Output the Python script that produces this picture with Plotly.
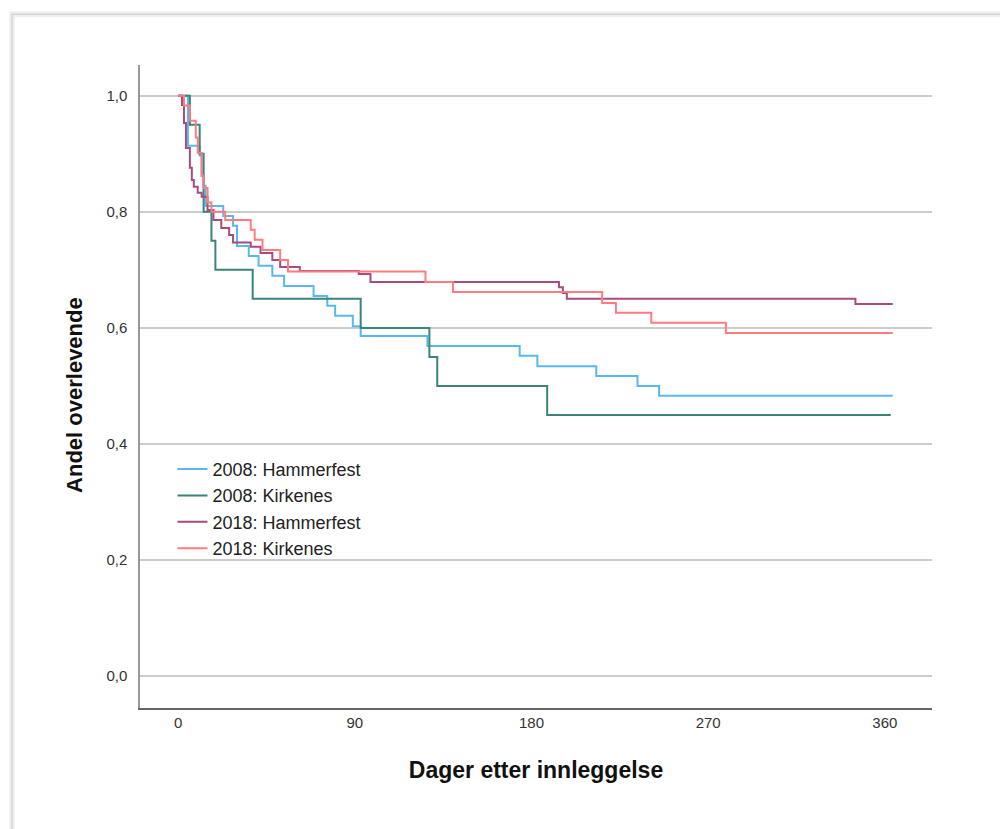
import plotly.graph_objects as go

# Kaplan-Meier style step data (days after admission, proportion surviving)
days_h08 = [0, 5, 11, 12, 13, 14, 23, 28, 30, 36, 41, 48, 54, 69, 76, 80, 89, 93, 127, 174, 183, 213, 234, 245, 364]
surv_h08 = [1.0, 0.914, 0.897, 0.862, 0.845, 0.810, 0.793, 0.776, 0.741, 0.724, 0.707, 0.690, 0.672, 0.655,
            0.638, 0.621, 0.603, 0.586, 0.569, 0.552, 0.534, 0.517, 0.500, 0.483, 0.483]

days_k08 = [0, 6, 11, 13, 17, 19, 38, 93, 128, 132, 188, 363]
surv_k08 = [1.0, 0.95, 0.90, 0.80, 0.75, 0.70, 0.65, 0.60, 0.55, 0.50, 0.45, 0.45]

days_h18 = [0, 2, 3, 4, 6, 7, 8, 10, 12, 15, 18, 22, 26, 28, 37, 42, 48, 52, 62, 92, 98, 194, 196, 198, 345, 364]
surv_h18 = [1.0, 0.984, 0.953, 0.910, 0.876, 0.855, 0.843, 0.833, 0.826, 0.803, 0.786, 0.772, 0.760, 0.747,
            0.740, 0.729, 0.717, 0.705, 0.698, 0.693, 0.679, 0.670, 0.660, 0.650, 0.641, 0.641]

days_k18 = [0, 3, 6, 9, 10, 12, 13, 15, 17, 24, 37, 39, 43, 52, 56, 126, 140, 216, 223, 241, 279, 364]
surv_k18 = [1.0, 0.983, 0.957, 0.928, 0.902, 0.862, 0.841, 0.816, 0.800, 0.786, 0.769, 0.752, 0.734, 0.717,
            0.697, 0.679, 0.662, 0.643, 0.626, 0.609, 0.591, 0.591]

series_names = ["2008: Hammerfest", "2008: Kirkenes", "2018: Hammerfest", "2018: Kirkenes"]
series_colors = ["#5ab8f0", "#3a847a", "#a94b7e", "#ff7b80"]

x_ticks = [0, 90, 180, 270, 360]
y_ticks = [0.0, 0.2, 0.4, 0.6, 0.8, 1.0]

fig = go.Figure()
for name, color, xs, ys in zip(series_names, series_colors,
                                [days_h08, days_k08, days_h18, days_k18],
                                [surv_h08, surv_k08, surv_h18, surv_k18]):
    fig.add_trace(go.Scatter(x=xs, y=ys, mode="lines", name=name,
                             line=dict(color=color, width=2, shape="hv")))

# outer frame with soft shadow
frame = dict(type="rect", xref="paper", yref="paper", x0=-0.1616, x1=1.12, y0=-0.25, y1=1.079, layer="below")
fig.add_shape(**frame, line=dict(color="rgba(0,0,0,0.06)", width=6))
fig.add_shape(**frame, line=dict(color="#d4d4d4", width=1.5))

# y-axis title placed as rotated annotation
fig.add_annotation(text="<b>Andel overlevende</b>", xref="paper", yref="paper",
                   x=-0.082, y=0.487, xanchor="center", yanchor="middle",
                   textangle=-90, showarrow=False, font=dict(size=22, color="#111"))

fig.update_layout(
    width=1008, height=829,
    margin=dict(l=132, r=84, t=57, b=129),
    paper_bgcolor="white", plot_bgcolor="white",
    separators=", ",
    font=dict(family="Liberation Sans, Arial, sans-serif", color="#222"),
    showlegend=True,
    legend=dict(x=0.041, y=0.400, xanchor="left", yanchor="top",
                font=dict(size=18, color="#222"), bgcolor="rgba(0,0,0,0)",
                itemwidth=30, tracegroupgap=0),
    xaxis=dict(range=[-19.4, 384], tickvals=x_ticks, showgrid=False, zeroline=False,
               showline=True, linecolor="#666", linewidth=2,
               tickfont=dict(size=15, color="#333"), ticks="",
               title=dict(text="<b>Dager etter innleggelse</b>", font=dict(size=23, color="#111"), standoff=32)),
    yaxis=dict(range=[-0.055, 1.053], tickvals=y_ticks, tickformat=".1f",
               showgrid=True, gridcolor="#cccccc", gridwidth=2, zeroline=False,
               showline=True, linecolor="#999999", linewidth=1.5,
               tickfont=dict(size=15, color="#333"), ticks="", ticklabelstandoff=8),
)

fig.write_html("out.html")
